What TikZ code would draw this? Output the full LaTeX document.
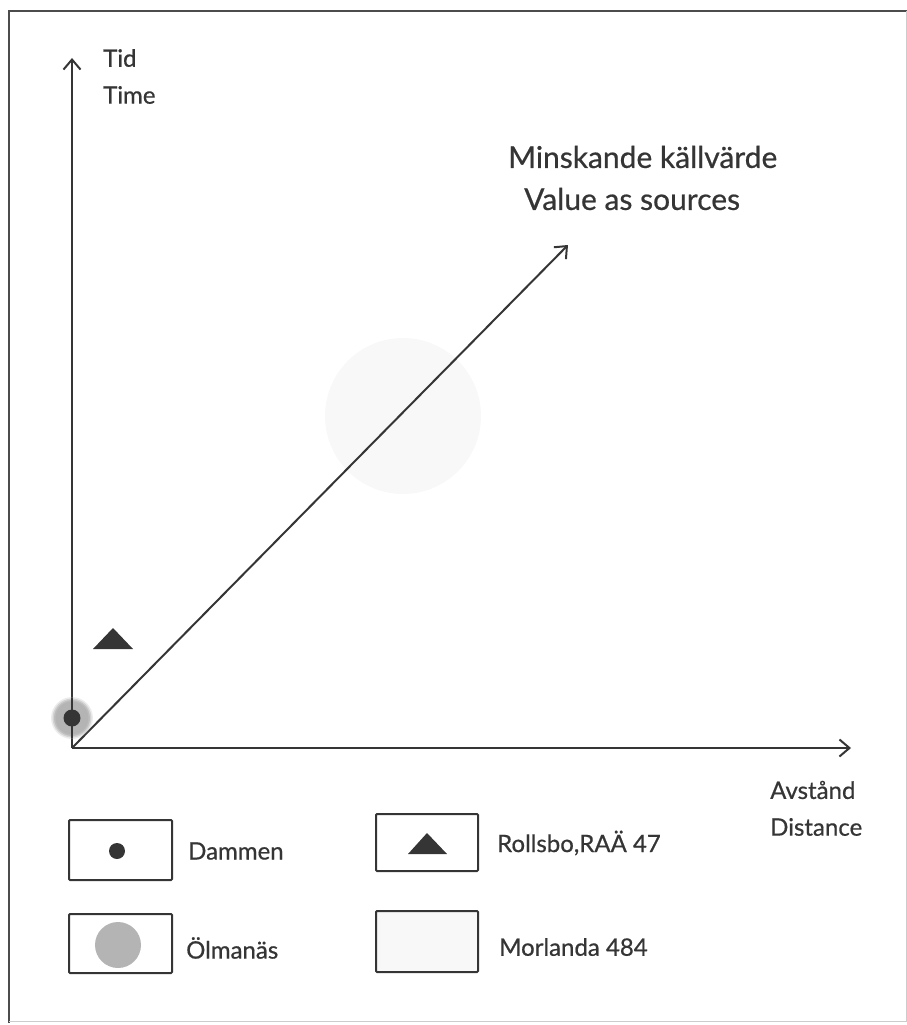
\documentclass[tikz,border=0pt]{standalone}
\usepackage{fontspec}
\setmainfont{Lato}[FakeBold=0.6]
\usetikzlibrary{arrows.meta}
\definecolor{ink}{HTML}{353535}
\definecolor{olmgray}{HTML}{B4B4B4}
\definecolor{morgray}{HTML}{F8F8F8}

\begin{document}
\begin{tikzpicture}[x = 1pt, y = -1pt, font = \fontsize{24}{28}\selectfont, text = ink]
	\tikzstyle{axisStyle} = [draw = ink, line width = 2pt, -{Straight Barb[length = 10pt, width = 17pt, line width = 2pt]}]
	\tikzstyle{boxStyle} = [draw = ink, line width = 2pt, rounded corners = 1pt]
	\tikzstyle{labelStyle} = [anchor = west, inner sep = 0pt]
	\tikzstyle{bigLabelStyle} = [anchor = west, inner sep = 0pt, font = \fontsize{30}{34}\selectfont]
	\useasboundingbox (0,0) rectangle (907,1025);
	% frame
	\draw[black!70, line width = 2.5pt] (9,1023) -- (9,11) -- (907,11);
	\draw[black!20, line width = 1pt] (906,11) -- (906,1021) -- (9,1021);
	% faint circle (Morlanda 484)
	\fill[morgray] (403,416) circle (78);
	% axes
	\coordinate (o) at (72,748);
	\coordinate (ytop) at (72,58);
	\coordinate (xend) at (851,748);
	\coordinate (dend) at (568,245);
	\draw[axisStyle] (o) -- (ytop);
	\draw[axisStyle] (o) -- (xend);
	\draw[axisStyle] (o) -- (dend);
	% Ölmanäs and Dammen
	\foreach \r/\op in {21/0.25, 19.5/0.45, 18/0.7, 16.5/1} {
		\fill[olmgray, opacity = \op] (72,718) circle (\r);
	}
	\draw[ink, line width = 2pt] (72,698) -- (72,738);
	\fill[ink] (72,718) circle (8.5);
	% Rollsbo
	\fill[ink] (93,649) -- (133,649) -- (113,628) -- cycle;
	% axis labels
	\node[labelStyle] (tid) at (103,58) {Tid};
	\node[labelStyle] (time) at (103,95) {Time};
	\node[bigLabelStyle] (minsk) at (508,157) {Minskande källvärde};
	\node[bigLabelStyle] (value) at (524,199) {Value as sources};
	\node[labelStyle] (avst) at (770,790) {Avstånd};
	\node[labelStyle] (dist) at (770,827) {Distance};
	% legend
	\draw[boxStyle] (69,820) rectangle (172,880);
	\fill[ink] (117,851) circle (8);
	\node[labelStyle] (damm) at (188,851) {Dammen};
	\draw[boxStyle] (69,914) rectangle (172,973);
	\fill[olmgray] (118,945) circle (23);
	\node[labelStyle] (olm) at (186,948) {Ölmanäs};
	\draw[boxStyle] (376,814) rectangle (478,871);
	\fill[ink] (408,854) -- (447,854) -- (427,833) -- cycle;
	\node[labelStyle] (roll) at (497,843) {Rollsbo,RAÄ 47};
	\draw[boxStyle, fill = morgray] (376,911) rectangle (478,972);
	\node[labelStyle] (morl) at (499,947) {Morlanda 484};
\end{tikzpicture}
\end{document}
